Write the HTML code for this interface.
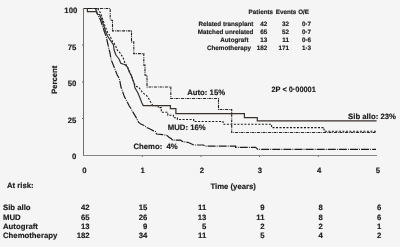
<!DOCTYPE html>
<html><head><meta charset="utf-8"><style>
html,body{margin:0;padding:0;background:#f5f5f5;}
svg{display:block;will-change:transform;}
text{font-family:"Liberation Sans",sans-serif;font-weight:bold;text-rendering:geometricPrecision;fill:#1a1a1a;stroke:#1a1a1a;stroke-width:0.15px;}
</style></head><body>
<svg width="400" height="247" viewBox="0 0 400 247">
<rect width="400" height="247" fill="#f5f5f5"/>
<g fill="none" stroke-linejoin="miter">
<polyline points="83.5,8.5 95.5,8.5 97.3,13.5 100.5,20.0 102.5,26.0 104.5,32.0 106.3,37.0 107.3,41.5 108.7,48.0 110.0,53.0 111.1,59.6 114.1,67.0 117.2,75.0 119.3,78.5 121.0,87.0 124.1,96.0 129.3,106.0 133.4,112.9 136.2,117.6 138.5,122.2 140.8,124.1 144.1,125.5 147.3,127.8 150.6,129.2 153.9,131.1 155.4,131.6 156.5,134.0 162.5,134.6 167.0,135.5 169.3,137.4 171.1,138.5 172.6,140.2 180.5,140.2 182.5,141.5 187.8,142.3 191.1,143.8 193.8,145.0 203.5,145.0 205.0,146.2 235.6,146.2 235.6,147.3 255.6,147.3 258.0,149.4 376.0,149.4" stroke="#1e1e1e" stroke-width="1.2" stroke-dasharray="8 1.1 0.9 1.1"/>
<polyline points="83.5,8.5 110.2,8.5 110.2,19.8 112.5,20.5 112.5,30.9 131.5,30.9 131.5,41.9 133.8,41.9 133.8,53.6 143.8,53.6 143.8,65.1 145.0,65.1 145.0,75.2 147.0,75.2 147.0,87.0 170.8,87.0 170.8,98.5 218.5,98.5 218.5,109.5 231.7,109.5 231.7,132.5 376.0,132.5" stroke="#1e1e1e" stroke-width="1.1" stroke-dasharray="2.8 0.95 0.8 0.95"/>
<polyline points="83.5,8.5 97.6,8.5 100.5,12.9 103.0,20.0 105.0,26.0 107.5,32.0 110.0,36.0 112.6,41.5 115.3,45.0 117.2,50.0 120.2,53.0 123.2,58.0 125.0,63.0 126.9,66.0 129.8,72.1 132.2,77.8 134.3,83.4 135.4,85.9 138.8,87.3 142.7,92.7 146.6,95.6 149.0,99.0 151.4,103.4 152.9,105.6 158.2,105.6 158.2,107.6 161.3,107.6 161.3,112.2 167.8,112.2 167.8,115.2 173.4,115.2 173.4,117.7 177.4,117.7 177.4,119.5 193.7,119.5 193.7,121.5 223.0,121.5 223.0,124.2 271.6,124.2 271.6,127.6 324.0,127.6 324.0,131.2 376.0,131.2" stroke="#1a1a1a" stroke-width="1.1" stroke-dasharray="2 1.5"/>
<polyline points="83.5,8.5 87.4,8.5 87.4,11.6 96.4,11.6 97.5,14.5 99.5,14.5 101.5,19.0 103.5,25.0 105.5,31.0 107.5,36.0 110.5,40.5 113.5,45.0 114.1,50.0 115.9,55.0 117.5,57.0 119.0,59.0 120.8,63.2 125.0,64.8 127.5,67.0 129.3,72.0 131.1,75.0 132.5,79.0 134.1,83.4 134.9,87.8 137.8,92.7 139.8,97.5 141.7,102.4 143.2,105.6 170.4,105.6 170.4,108.6 175.9,108.6 175.9,113.7 244.4,113.7 244.4,117.6 257.3,117.6 257.3,120.9 376.6,120.9" stroke="#3a302c" stroke-width="1.2"/>
</g>
<g stroke="#6a716f" stroke-width="1" fill="none">
<line x1="83.5" y1="8" x2="83.5" y2="155.5"/>
<line x1="83" y1="155.5" x2="377" y2="155.5" stroke="#858786"/>
<line x1="82" y1="45" x2="83" y2="45"/>
<line x1="82" y1="82" x2="83" y2="82"/>
<line x1="82" y1="118.5" x2="83" y2="118.5"/>
<line x1="142.3" y1="155.5" x2="142.3" y2="157"/>
<line x1="201" y1="155.5" x2="201" y2="157"/>
<line x1="259.5" y1="155.5" x2="259.5" y2="157"/>
<line x1="318.3" y1="155.5" x2="318.3" y2="157"/>
</g>
<text x="77.3" y="12.8" text-anchor="end" font-size="7.75" >100</text>
<text x="76.3" y="49.6" text-anchor="end" font-size="7.75" >75</text>
<text x="76.3" y="86.1" text-anchor="end" font-size="7.75" >50</text>
<text x="76.3" y="122.9" text-anchor="end" font-size="7.75" >25</text>
<text x="76.3" y="159.2" text-anchor="end" font-size="7.75" >0</text>
<text x="84.4" y="173.4" text-anchor="middle" font-size="7.75" >0</text>
<text x="142.7" y="173.4" text-anchor="middle" font-size="7.75" >1</text>
<text x="201.8" y="173.4" text-anchor="middle" font-size="7.75" >2</text>
<text x="260" y="173.4" text-anchor="middle" font-size="7.75" >3</text>
<text x="319.2" y="173.4" text-anchor="middle" font-size="7.75" >4</text>
<text x="378" y="173.4" text-anchor="middle" font-size="7.75" >5</text>
<text x="233.2" y="189.4" text-anchor="middle" font-size="7.75" >Time (years)</text>
<text x="7" y="187.9" text-anchor="start" font-size="7.75" >At risk:</text>
<text x="3" y="210.2" text-anchor="start" font-size="7.75" >Sib allo</text>
<text x="89.7" y="210.2" text-anchor="end" font-size="7.75" >42</text>
<text x="147.3" y="210.2" text-anchor="end" font-size="7.75" >15</text>
<text x="206.3" y="210.2" text-anchor="end" font-size="7.75" >11</text>
<text x="264.5" y="210.2" text-anchor="end" font-size="7.75" >9</text>
<text x="322.7" y="210.2" text-anchor="end" font-size="7.75" >8</text>
<text x="381.3" y="210.2" text-anchor="end" font-size="7.75" >6</text>
<text x="3" y="219.5" text-anchor="start" font-size="7.75" >MUD</text>
<text x="89.7" y="219.5" text-anchor="end" font-size="7.75" >65</text>
<text x="147.3" y="219.5" text-anchor="end" font-size="7.75" >26</text>
<text x="206.3" y="219.5" text-anchor="end" font-size="7.75" >13</text>
<text x="264.5" y="219.5" text-anchor="end" font-size="7.75" >11</text>
<text x="322.7" y="219.5" text-anchor="end" font-size="7.75" >8</text>
<text x="381.3" y="219.5" text-anchor="end" font-size="7.75" >6</text>
<text x="3" y="228.9" text-anchor="start" font-size="7.75" >Autograft</text>
<text x="89.7" y="228.9" text-anchor="end" font-size="7.75" >13</text>
<text x="147.3" y="228.9" text-anchor="end" font-size="7.75" >9</text>
<text x="206.3" y="228.9" text-anchor="end" font-size="7.75" >5</text>
<text x="264.5" y="228.9" text-anchor="end" font-size="7.75" >2</text>
<text x="322.7" y="228.9" text-anchor="end" font-size="7.75" >2</text>
<text x="381.3" y="228.9" text-anchor="end" font-size="7.75" >1</text>
<text x="3" y="238.3" text-anchor="start" font-size="7.75" >Chemotherapy</text>
<text x="89.7" y="238.3" text-anchor="end" font-size="7.75" >182</text>
<text x="147.3" y="238.3" text-anchor="end" font-size="7.75" >34</text>
<text x="206.3" y="238.3" text-anchor="end" font-size="7.75" >11</text>
<text x="264.5" y="238.3" text-anchor="end" font-size="7.75" >5</text>
<text x="322.7" y="238.3" text-anchor="end" font-size="7.75" >4</text>
<text x="381.3" y="238.3" text-anchor="end" font-size="7.75" >2</text>
<text x="187.2" y="95.4" text-anchor="start" font-size="7.75" >Auto: 15%</text>
<text x="271.5" y="92.0" text-anchor="start" font-size="7.75" textLength="44.3" lengthAdjust="spacingAndGlyphs">2P &lt; 0·00001</text>
<text x="167.8" y="130.1" text-anchor="start" font-size="7.75" >MUD: 16%</text>
<text x="133.4" y="149.4" text-anchor="start" font-size="7.75" >Chemo:  4%</text>
<text x="348.1" y="118.6" text-anchor="start" font-size="7.75" >Sib allo: 23%</text>
<text x="0" y="0" font-size="7.75" text-anchor="middle" transform="translate(57.2,79.8) rotate(-90)">Percent</text>
<text x="248.6" y="13.9" text-anchor="start" font-size="6.3" >Patients</text>
<text x="275.7" y="13.9" text-anchor="start" font-size="6.3" >Events</text>
<text x="298.2" y="13.9" text-anchor="start" font-size="6.3" >O/E</text>
<text x="253.4" y="25.8" text-anchor="end" font-size="6.3" >Related transplant</text>
<text x="267.2" y="25.8" text-anchor="end" font-size="6.3" >42</text>
<text x="289" y="25.8" text-anchor="end" font-size="6.3" >32</text>
<text x="311" y="25.8" text-anchor="end" font-size="6.3" >0·7</text>
<text x="253.4" y="33.7" text-anchor="end" font-size="6.3" >Matched unrelated</text>
<text x="267.2" y="33.7" text-anchor="end" font-size="6.3" >65</text>
<text x="289" y="33.7" text-anchor="end" font-size="6.3" >52</text>
<text x="311" y="33.7" text-anchor="end" font-size="6.3" >0·7</text>
<text x="248.5" y="41.9" text-anchor="end" font-size="6.3" >Autograft</text>
<text x="267.2" y="41.9" text-anchor="end" font-size="6.3" >13</text>
<text x="289" y="41.9" text-anchor="end" font-size="6.3" >11</text>
<text x="311" y="41.9" text-anchor="end" font-size="6.3" >0·6</text>
<text x="251" y="49.6" text-anchor="end" font-size="6.3" >Chemotherapy</text>
<text x="267.2" y="49.6" text-anchor="end" font-size="6.3" >182</text>
<text x="289" y="49.6" text-anchor="end" font-size="6.3" >171</text>
<text x="311" y="49.6" text-anchor="end" font-size="6.3" >1·3</text>
</svg>
</body></html>
